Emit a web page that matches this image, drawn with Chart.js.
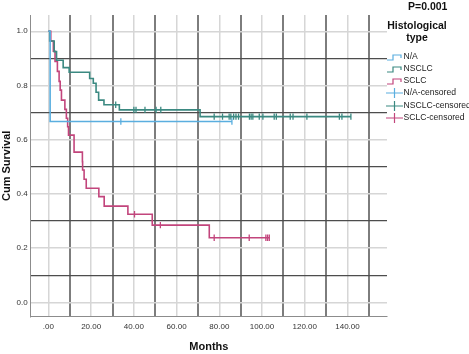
<!DOCTYPE html>
<html><head><meta charset="utf-8">
<script src="https://cdn.jsdelivr.net/npm/chart.js@4/dist/chart.umd.min.js"></script>
<style>html,body{margin:0;padding:0;background:#fff;}#wrap{width:469px;height:354px;position:relative;}</style>
</head><body><div id="wrap"><canvas id="c" width="469" height="354"></canvas></div>
<script>
// ---- data ----
const groups = ["N/A", "NSCLC", "SCLC"];
const naTimes = [0, 0.8];
const naSurv = [1.0, 0.667];
const naCensored = [33.9, 85.9];
const nsclcTimes = [0, 0.6, 2.7, 3.8, 6.9, 9.7, 19.3, 21.0, 22.3, 23.5, 26.0, 33.2, 71.0];
const nsclcSurv = [1.0, 0.964, 0.925, 0.893, 0.866, 0.849, 0.826, 0.808, 0.775, 0.746, 0.729, 0.710, 0.685];
const nsclcCensored = [31.5, 40.0, 41.0, 45.2, 50.4, 52.6, 77.6, 81.5, 84.6, 85.4, 86.7, 87.8, 89.0, 94.1, 94.9, 95.7, 98.7, 100.4, 105.7, 106.7, 113.2, 114.5, 121.0, 136.2, 137.4, 141.6];
const sclcTimes = [0, 1.1, 2.3, 3.1, 4.2, 5.0, 5.5, 6.1, 7.7, 8.4, 9.0, 9.4, 12.0, 15.9, 16.0, 16.7, 17.7, 23.6, 26.1, 37.2, 48.6, 75.3];
const sclcSurv = [1.0, 0.964, 0.926, 0.889, 0.852, 0.815, 0.783, 0.746, 0.712, 0.679, 0.648, 0.617, 0.554, 0.519, 0.488, 0.454, 0.421, 0.390, 0.355, 0.325, 0.285, 0.238];
const sclcCensored = [40.3, 52.4, 77.6, 94.0, 101.8, 102.6, 103.4];
const xTicks = [0, 20, 40, 60, 80, 100, 120, 140];
const xTickLabels = [".00", "20.00", "40.00", "60.00", "80.00", "100.00", "120.00", "140.00"];
const xRefLines = [10, 30, 50, 70, 90, 110, 130, 150];
const yTicks = [0, 0.2, 0.4, 0.6, 0.8, 1.0];
const yTickLabels = ["0.0", "0.2", "0.4", "0.6", "0.8", "1.0"];
const yRefLines = [0.1, 0.3, 0.5, 0.7, 0.9];
const pText = "P=0.001";

// ---- styles ----
const colors = ["#5aaedf", "#3b8981", "#c2457c"];
const FONT = "'Liberation Sans', Arial, sans-serif";

function curve(times, surv, cens) {
  const pts = times.map((t, i) => ({x: t, y: surv[i]}));
  const end = Math.max(...cens, times[times.length - 1]);
  pts.push({x: end, y: surv[surv.length - 1]});
  return pts;
}
function survAt(times, surv, t) {
  let s = surv[0];
  for (let i = 0; i < times.length; i++) if (times[i] <= t) s = surv[i];
  return s;
}
function censPts(times, surv, cens) {
  return cens.map(t => ({x: t, y: survAt(times, surv, t)}));
}
const series = [
  [naTimes, naSurv, naCensored],
  [nsclcTimes, nsclcSurv, nsclcCensored],
  [sclcTimes, sclcSurv, sclcCensored]
];
const datasets = [];
series.forEach((s, i) => {
  datasets.push({label: groups[i], data: curve(s[0], s[1], s[2]), stepped: 'before',
    borderColor: colors[i], borderWidth: 1.6, pointRadius: 0, fill: false, order: 2});
});
series.forEach((s, i) => {
  datasets.push({label: groups[i] + "-censored", data: censPts(s[0], s[1], s[2]), showLine: false,
    pointStyle: 'line', rotation: 90, pointRadius: 3.2, borderColor: colors[i], borderWidth: 1.3,
    backgroundColor: colors[i], order: 1});
});

const isIn = (arr, v) => arr.some(a => Math.abs(a - v) < 1e-6);

const overlay = {
  id: 'overlay',
  afterDraw(chart) {
    const ctx = chart.ctx;
    ctx.save();
    ctx.fillStyle = '#111';
    ctx.textBaseline = 'middle';
    ctx.font = "bold 10.5px " + FONT;
    ctx.textAlign = 'left';
    ctx.fillText(pText, 408, 7);
    ctx.textAlign = 'center';
    ctx.fillText("Histological", 417, 26);
    ctx.fillText("type", 417, 38);
    ctx.textAlign = 'left';
    ctx.font = "8.6px " + FONT;
    const rows = [57, 69, 81, 93, 106, 118];
    const labels = datasets.map(d => d.label);
    labels.forEach((lab, k) => {
      const y = rows[k];
      const c = colors[k % 3];
      ctx.strokeStyle = c;
      ctx.lineWidth = 1.2;
      ctx.beginPath();
      if (k < 3) {
        ctx.moveTo(387, y + 3); ctx.lineTo(393, y + 3); ctx.lineTo(393, y - 2);
        ctx.lineTo(401, y - 2); ctx.lineTo(401, y + 1);
      } else {
        ctx.moveTo(386, y); ctx.lineTo(403, y);
        ctx.moveTo(394.5, y - 5); ctx.lineTo(394.5, y + 5);
      }
      ctx.stroke();
      ctx.fillStyle = '#222';
      ctx.fillText(lab, 403.5, y);
    });
    ctx.restore();
  }
};

new Chart(document.getElementById('c'), {
  type: 'line',
  data: {datasets},
  options: {
    responsive: false, animation: false, devicePixelRatio: 1,
    layout: {padding: {top: 15, right: 82, left: 0, bottom: 0}},
    plugins: {legend: {display: false}, tooltip: {enabled: false}},
    scales: {
      x: {
        type: 'linear', min: -8.3, max: 158.5,
        afterBuildTicks: s => { s.ticks = [...xTicks, ...xRefLines].sort((a, b) => a - b).map(v => ({value: v})); },
        afterFit: s => { s.height = 37.3; },
        ticks: {autoSkip: false, maxRotation: 0, padding: 5, color: '#333', font: {family: FONT, size: 8},
          callback: v => { const i = xTicks.findIndex(t => Math.abs(t - v) < 1e-6); return i >= 0 ? xTickLabels[i] : ''; }},
        grid: {drawTicks: false,
          color: c => isIn(xRefLines, c.tick.value) ? '#7d7d7d' : '#d6d6d6',
          lineWidth: c => isIn(xRefLines, c.tick.value) ? 2 : 1.5},
        border: {display: true, color: '#8c8c8c', width: 1},
        title: {display: true, text: 'Months', color: '#111', font: {family: FONT, size: 11, weight: 'bold'}, padding: {top: 0, bottom: 0}}
      },
      y: {
        type: 'linear', min: -0.053, max: 1.06,
        afterBuildTicks: s => { s.ticks = [...yTicks, ...yRefLines].sort((a, b) => a - b).map(v => ({value: v})); },
        afterFit: s => { s.width = 30.7; },
        ticks: {autoSkip: false, padding: 3, color: '#333', font: {family: FONT, size: 8},
          callback: v => { const i = yTicks.findIndex(t => Math.abs(t - v) < 1e-6); return i >= 0 ? yTickLabels[i] : ''; }},
        grid: {drawTicks: false,
          color: c => isIn(yRefLines, c.tick.value) ? '#4d4d4d' : '#d6d6d6',
          lineWidth: c => isIn(yRefLines, c.tick.value) ? 1.2 : 1.5},
        border: {display: true, color: '#8c8c8c', width: 1},
        title: {display: true, text: 'Cum Survival', color: '#111', font: {family: FONT, size: 11, weight: 'bold'}, padding: {top: 0, bottom: 0}}
      }
    }
  },
  plugins: [overlay]
});
</script></body></html>
